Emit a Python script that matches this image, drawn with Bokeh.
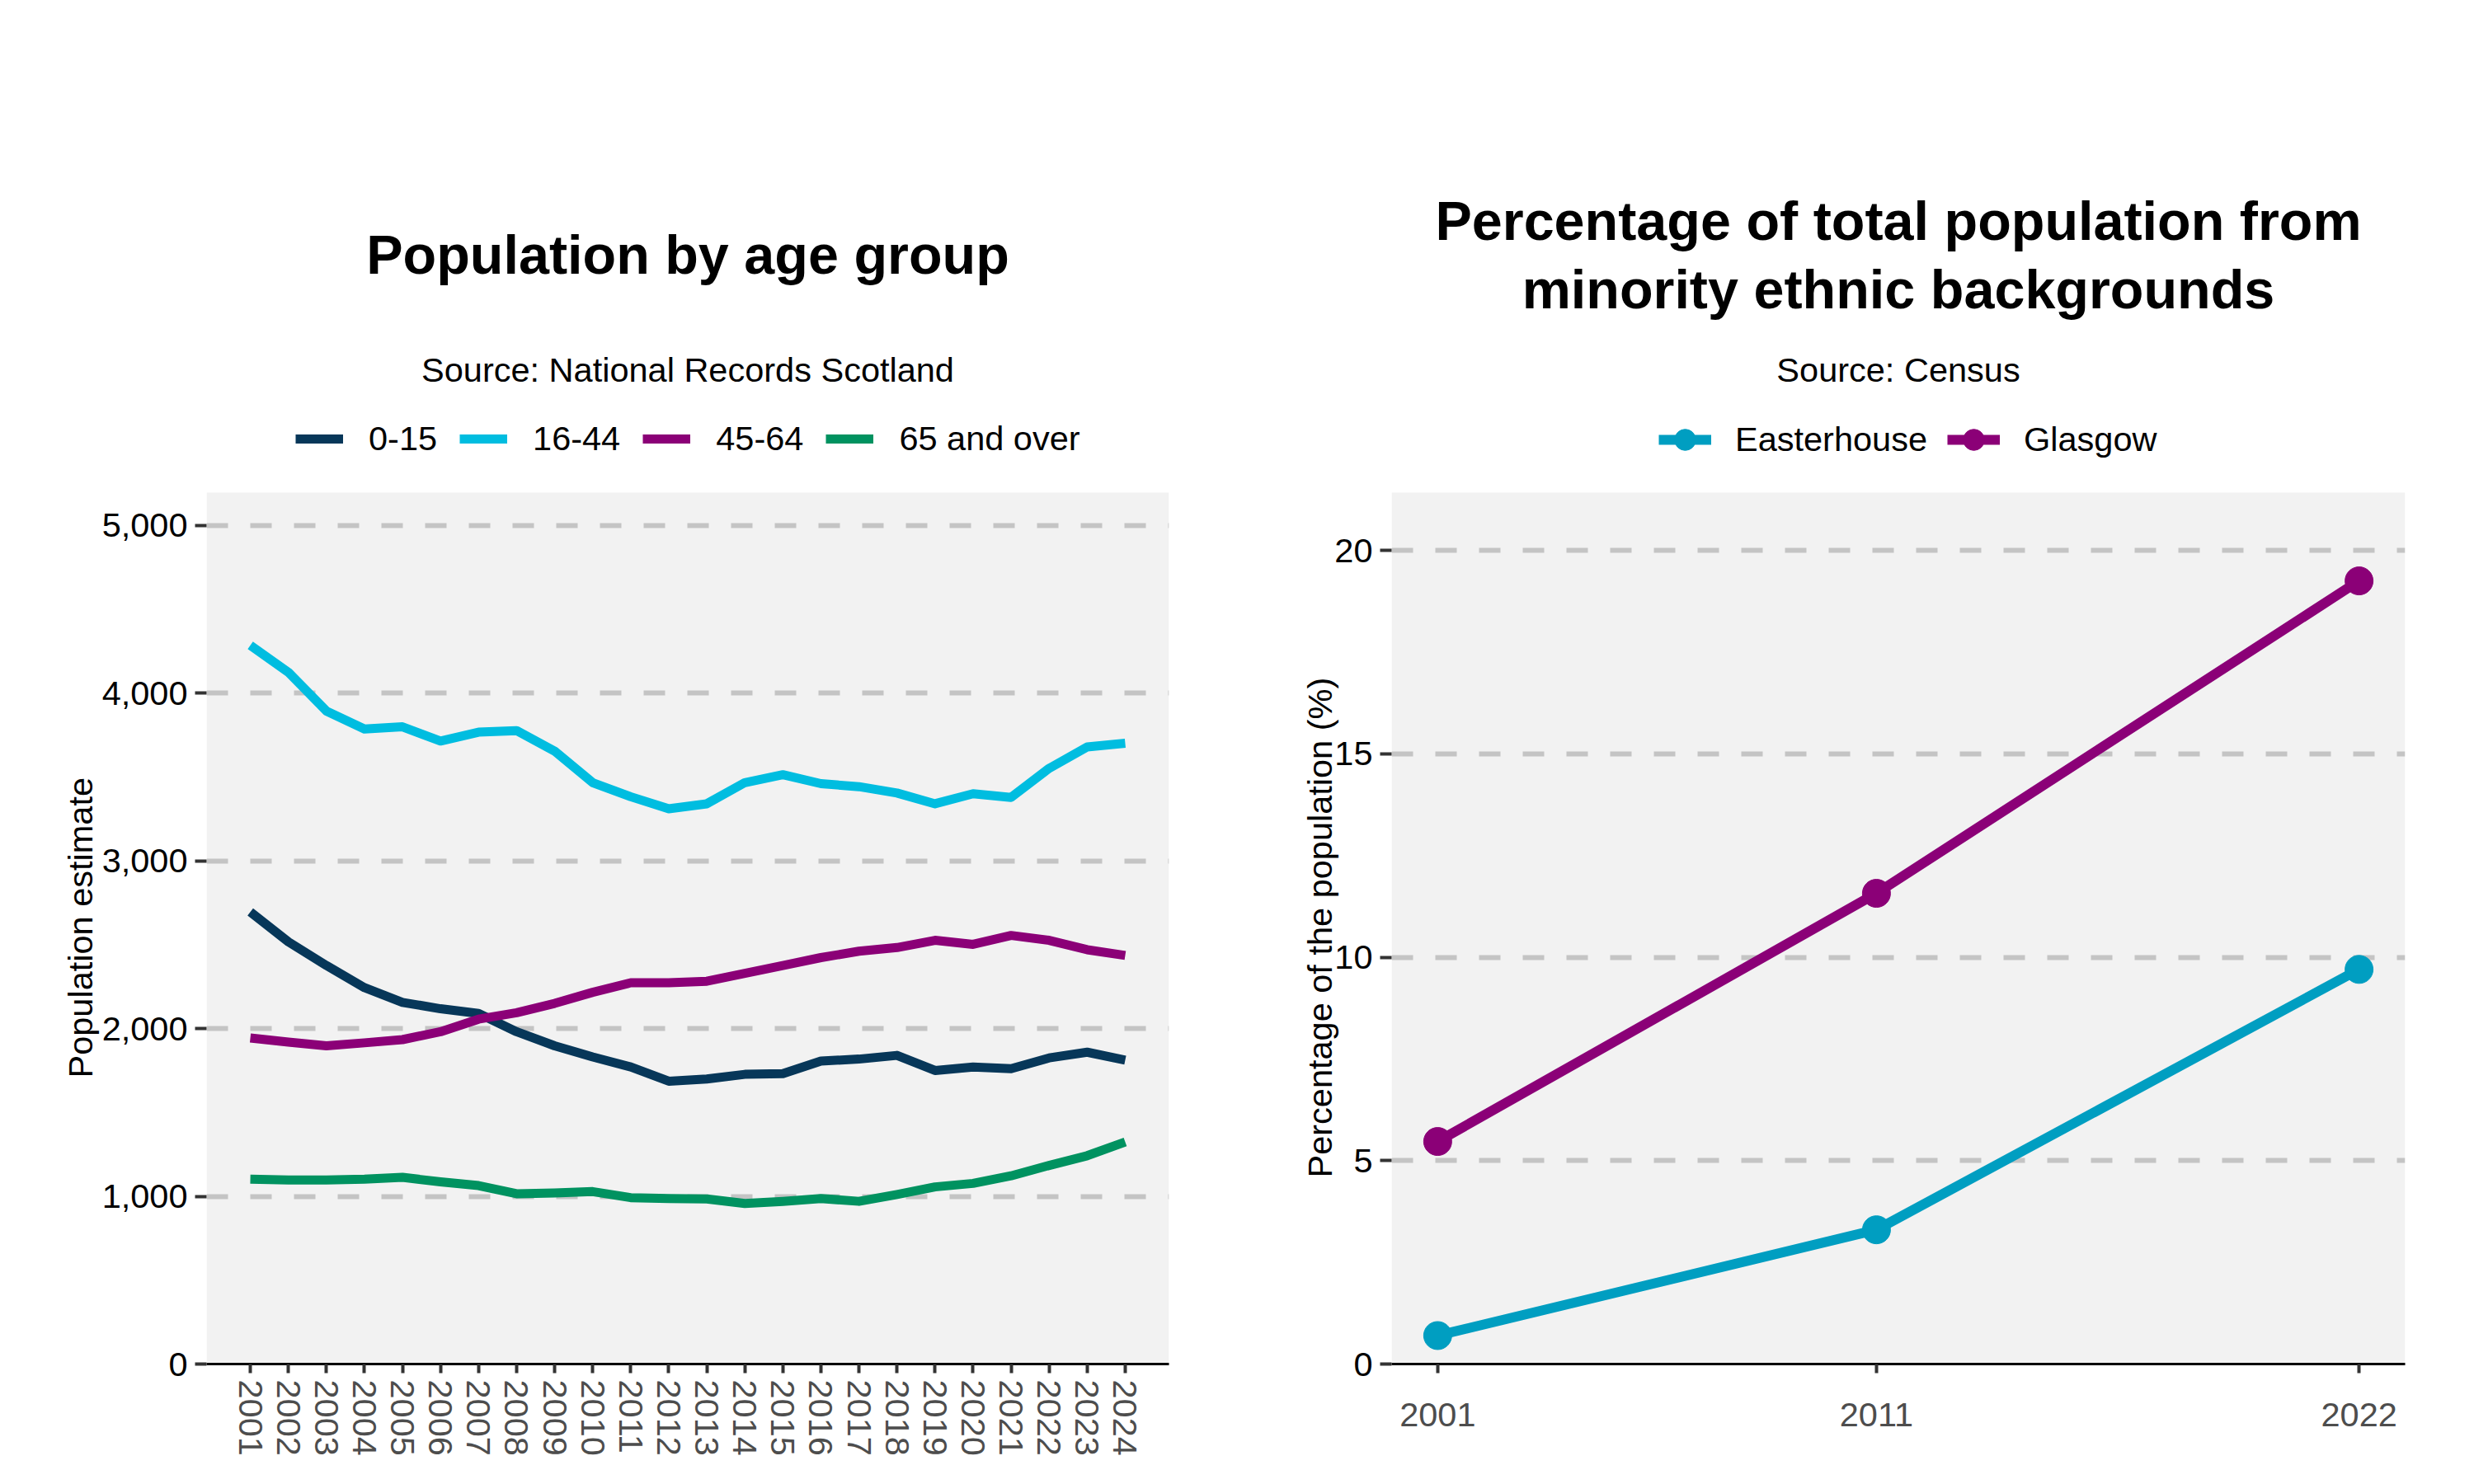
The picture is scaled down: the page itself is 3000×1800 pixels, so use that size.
import numpy as np
from bokeh.layouts import row
from bokeh.plotting import figure
from bokeh.models import (BoxAnnotation, ColumnDataSource, Label, Legend, LegendItem,
                          NumeralTickFormatter, Range1d, Title)
from bokeh.embed import file_html
from bokeh.resources import INLINE

# population by age group (National Records Scotland)
years = list(range(2001, 2025))
age_0_15 = [2695, 2517, 2376, 2244, 2156, 2118, 2090, 1981, 1897, 1831, 1771, 1686,
            1699, 1727, 1731, 1806, 1818, 1840, 1750, 1771, 1761, 1825, 1859, 1812]
age_16_44 = [4284, 4124, 3893, 3786, 3799, 3714, 3767, 3776, 3654, 3466, 3382, 3310,
             3340, 3466, 3513, 3460, 3442, 3404, 3340, 3400, 3378, 3551, 3679, 3701]
age_45_64 = [1944, 1919, 1897, 1915, 1934, 1981, 2056, 2094, 2150, 2216, 2273, 2273,
             2282, 2329, 2376, 2423, 2461, 2483, 2526, 2502, 2555, 2526, 2470, 2436]
age_65_over = [1102, 1097, 1097, 1102, 1113, 1086, 1064, 1015, 1020, 1028, 992, 987,
               984, 957, 970, 987, 970, 1011, 1056, 1077, 1122, 1184, 1242, 1324]
age_groups = ["0-15", "16-44", "45-64", "65 and over"]
age_colors = ["#073759", "#00BDE0", "#8B0077", "#009260"]
pop_ticks = [0, 1000, 2000, 3000, 4000, 5000]
pop_top = 5195

# minority ethnic share (Census)
census_years = [2001, 2011, 2022]
easterhouse = [0.7, 3.3, 9.7]
glasgow = [5.47, 11.57, 19.25]
areas = ["Easterhouse", "Glasgow"]
area_colors = ["#009EC1", "#8B0077"]
pct_ticks = [0, 5, 10, 15, 20]
pct_top = 21.42

FONT = "Liberation Sans"
TXT = "41.5px"
PANEL_H = 1057   # grey panel height in px
FULL_H = 1654    # frame height incl. header area above the panel


def style(p, top):
    # the frame also holds the header; the grey panel is drawn as a box up to `top`
    p.background_fill_color = "white"
    p.border_fill_color = "white"
    p.outline_line_color = None
    p.add_layout(BoxAnnotation(bottom=0, top=top, fill_color="#F2F2F2", fill_alpha=1,
                               line_color=None, level="image"))
    p.xgrid.grid_line_color = None
    p.ygrid.grid_line_color = "#C4C4C4"
    p.ygrid.grid_line_width = 6
    p.ygrid.grid_line_dash = "26 27"
    for ax in (p.xaxis[0], p.yaxis[0]):
        ax.major_label_text_font = FONT
        ax.major_label_text_font_size = TXT
        ax.minor_tick_line_color = None
        ax.major_tick_line_color = "#333333"
        ax.major_tick_line_width = 4
        ax.major_tick_in = 0
    p.yaxis.axis_line_color = None
    p.yaxis.major_tick_out = 14
    p.yaxis.major_label_standoff = 9
    p.yaxis.major_label_text_color = "black"
    p.xaxis.axis_line_color = "black"
    p.xaxis.axis_line_width = 3
    p.xaxis.major_tick_out = 11
    p.xaxis.major_label_text_color = "#4D4D4D"


def y_title(p, text, offset, standoff=0):
    # axis title centred on the grey panel rather than on the whole frame
    p.add_layout(Title(text=text, align="left", offset=offset, standoff=standoff,
                       text_font=FONT, text_font_size=TXT, text_font_style="normal",
                       text_color="black"), "left")


def text_label(p, text, x, y, size, bold=False):
    p.add_layout(Label(x=x, y=y, x_units="screen", y_units="screen", text=text,
                       text_align="center", text_baseline="alphabetic",
                       text_font=FONT, text_font_size=size,
                       text_font_style="bold" if bold else "normal", text_color="black"))


def legend(items, x, y, gw, gh, standoff, spacing):
    return Legend(items=items, orientation="horizontal", location=(x, y),
                  glyph_width=gw, glyph_height=gh, label_standoff=standoff, spacing=spacing,
                  padding=0, margin=0, background_fill_alpha=0, border_line_color=None,
                  label_text_font=FONT, label_text_font_size=TXT, label_text_color="black")


# ---- left: population by age group
fw1 = 1167
p1 = figure(width=1540, height=1784, frame_width=fw1, frame_height=FULL_H,
            min_border_left=250, min_border_right=123, min_border_top=0, min_border_bottom=130,
            x_range=Range1d(1999.85, 2025.15), y_range=Range1d(0, pop_top * FULL_H / PANEL_H),
            toolbar_location=None, output_backend="svg")
style(p1, pop_top)
p1.xaxis.ticker = years
p1.xaxis.major_label_orientation = "vertical"
p1.xaxis.major_label_standoff = 8
p1.yaxis.ticker = pop_ticks
p1.yaxis.formatter = NumeralTickFormatter(format="0,0")
y_title(p1, "Population estimate", 347)

src = ColumnDataSource(dict(year=years, a=age_0_15, b=age_16_44, c=age_45_64, d=age_65_over))
items = []
for col, name, colr in zip(["a", "b", "c", "d"], age_groups, age_colors):
    r = p1.line("year", col, source=src, line_color=colr, line_width=11, line_join="round")
    items.append(LegendItem(label=name, renderers=[r]))

p1.add_layout(legend(items, 108, 1098, 58, 40, 31, 27), "center")
text_label(p1, "Population by age group", fw1 / 2, 1346, "66.5px", bold=True)
text_label(p1, "Source: National Records Scotland", fw1 / 2, 1206, TXT)

# ---- right: minority ethnic backgrounds
fw2 = 1229
p2 = figure(width=1444, height=1784, frame_width=fw2, frame_height=FULL_H,
            min_border_left=147, min_border_right=68, min_border_top=0, min_border_bottom=130,
            x_range=Range1d(1999.95, 2023.05), y_range=Range1d(0, pct_top * FULL_H / PANEL_H),
            toolbar_location=None, output_backend="svg")
style(p2, pct_top)
p2.xaxis.ticker = census_years
p2.xaxis.major_label_standoff = 36
p2.yaxis.ticker = pct_ticks
y_title(p2, "Percentage of the population (%)", 226, standoff=-16)

src2 = ColumnDataSource(dict(year=census_years, e=easterhouse, g=glasgow))
items2 = []
for col, name, colr in zip(["e", "g"], areas, area_colors):
    ln = p2.line("year", col, source=src2, line_color=colr, line_width=12, line_join="round")
    pt = p2.scatter("year", col, source=src2, size=34, fill_color=colr, line_color=colr)
    items2.append(LegendItem(label=name, renderers=[ln, pt]))

p2.add_layout(legend(items2, 324, 1086, 64, 70, 29, 24), "center")
text_label(p2, "Percentage of total population from", fw2 / 2, 1387, "66.5px", bold=True)
text_label(p2, "minority ethnic backgrounds", fw2 / 2, 1304, "66.5px", bold=True)
text_label(p2, "Source: Census", fw2 / 2, 1206, TXT)

layout = row(p1, p2)
open("out.html", "w").write(file_html(layout, INLINE))
